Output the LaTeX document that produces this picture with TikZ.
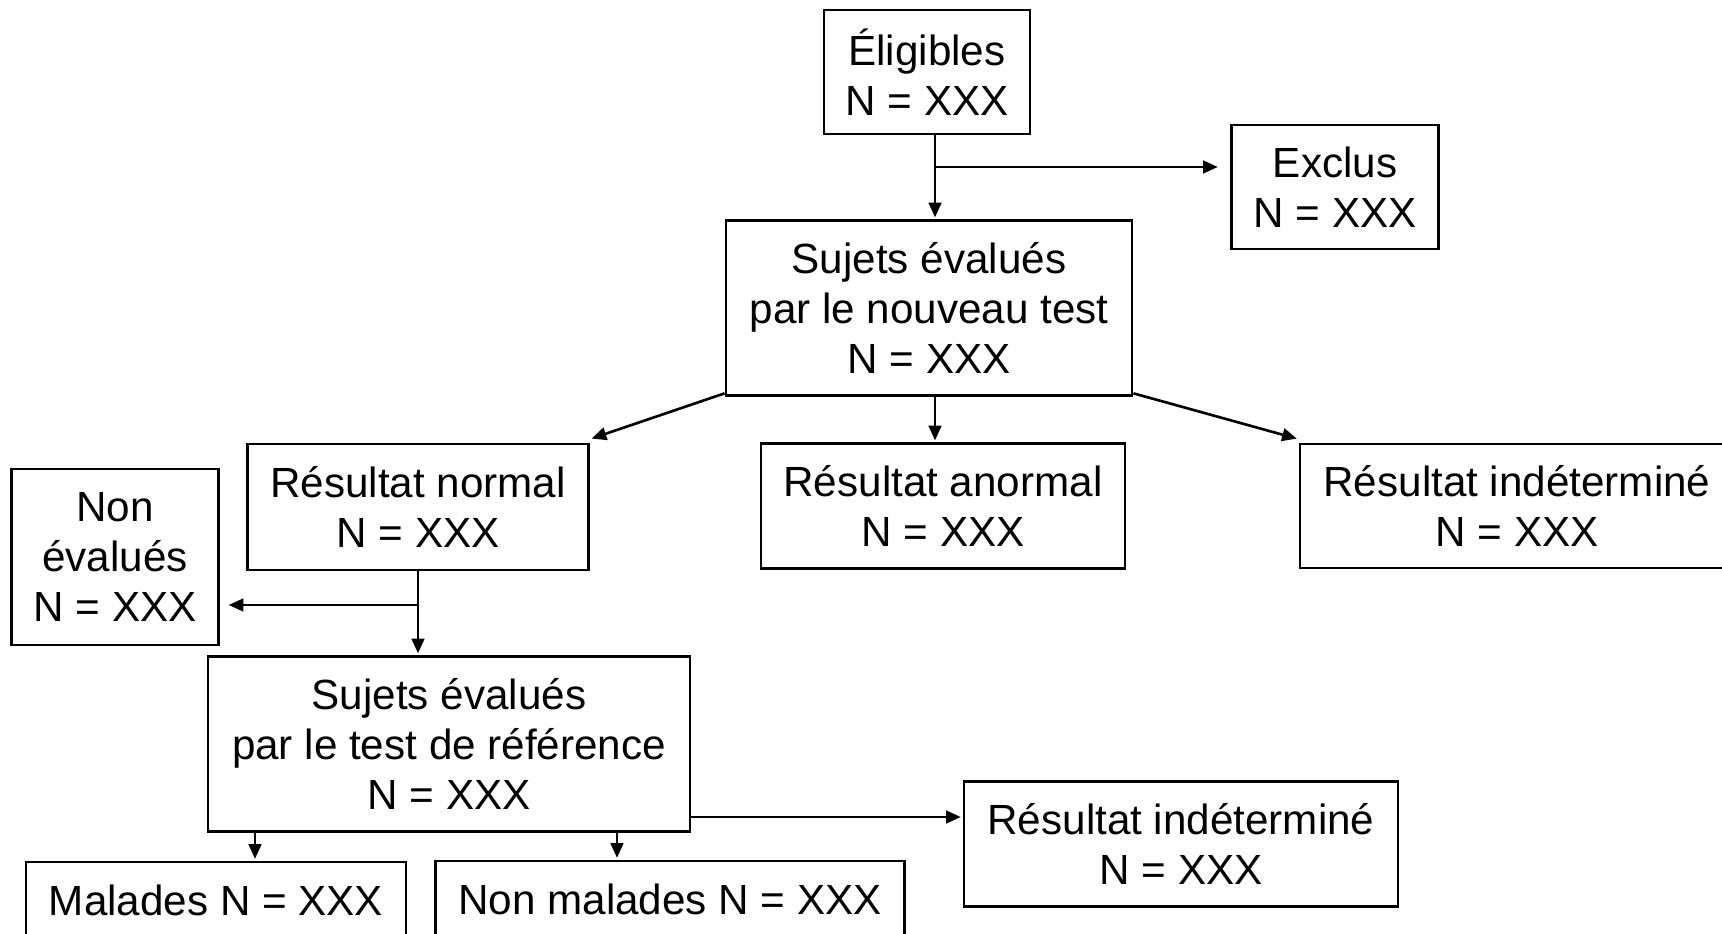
\documentclass[tikz,border=0pt]{standalone}
\usepackage{fontspec}
\setmainfont{Liberation Sans}
\usetikzlibrary{arrows.meta,positioning}

\tikzset{
	boite/.style={draw, line width=0.75pt, align=center, inner sep=0pt, font=\fontsize{12}{14.2}\selectfont},
	fleche/.style={line width=0.75pt, -{Triangle[length=4.2pt,width=3.6pt]}, shorten >=0.5pt}
}

\begin{document}
\begin{tikzpicture}[x=0.01cm, y=-0.01cm]
		% Cadre
		\clip (0,0) rectangle (1722,934);

		% Kästen
		\node[boite, minimum width=2.06cm, minimum height=1.24cm] (elig) at (927,72) {Éligibles\\N = XXX};
		\node[boite, minimum width=2.07cm, minimum height=1.24cm] (exclus) at (1335,187) {Exclus\\N = XXX};
		\node[boite, minimum width=4.06cm, minimum height=1.75cm] (nouveau) at (929,308) {Sujets évalués\\par le nouveau test\\N = XXX};
		\node[boite, minimum width=3.41cm, minimum height=1.26cm] (normal) at (418,507) {Résultat normal\\N = XXX};
		\node[boite, minimum width=3.64cm, minimum height=1.25cm] (anormal) at (943,506) {Résultat anormal\\N = XXX};
		\node[boite, minimum width=4.34cm, minimum height=1.24cm] (indet) at (1517,506) {Résultat indéterminé\\N = XXX};
		\node[boite, minimum width=2.07cm, minimum height=1.76cm] (nonev) at (115,557) {Non\\évalués\\N = XXX};
		\node[boite, minimum width=4.82cm, minimum height=1.75cm] (ref) at (449,744) {Sujets évalués\\par le test de référence\\N = XXX};
		\node[boite, minimum width=4.34cm, minimum height=1.25cm] (indetb) at (1181,844) {Résultat indéterminé\\N = XXX};
		\node[boite, minimum width=3.80cm, minimum height=0.76cm] (malades) at (216,900) {Malades N = XXX};
		\node[boite, minimum width=4.69cm, minimum height=0.76cm] (nonmal) at (670,899) {Non malades N = XXX};

		% Koordinaten
		\coordinate (j1) at (935,167);
		\coordinate (j2) at (418,605);
		\coordinate (m1) at (255,0);
		\coordinate (m2) at (617,0);
		\coordinate (r1) at (0,817);

		% Pfeile
		\draw[fleche] (elig.south -| j1) -- (nouveau.north -| j1);
		\draw[fleche] (j1) -- ([xshift=-3pt]exclus.west |- j1);
		\draw[fleche] ([yshift=1pt]nouveau.south west) -- ([yshift=1pt]normal.north east);
		\draw[fleche] (nouveau.south -| j1) -- (anormal.north -| j1);
		\draw[fleche] ([yshift=1pt]nouveau.south east) -- ([yshift=1pt]indet.north west);
		\draw[fleche] (normal.south) -- (normal.south |- ref.north);
		\draw[fleche] (j2) -- ([xshift=2pt]nonev.east |- j2);
		\draw[fleche] (ref.south -| m1) -- (malades.north -| m1);
		\draw[fleche] (ref.south -| m2) -- (nonmal.north -| m2);
		\draw[fleche] (ref.east |- r1) -- (indetb.west |- r1);
	\end{tikzpicture}
\end{document}
